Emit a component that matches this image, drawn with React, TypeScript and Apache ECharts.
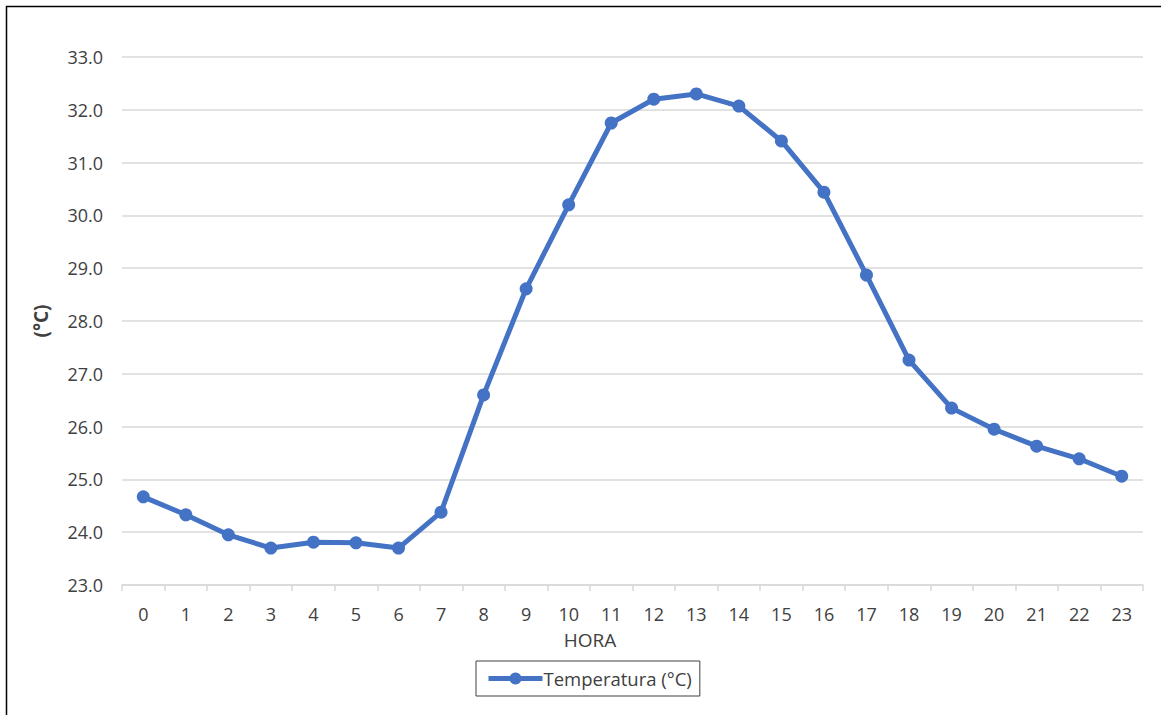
import React, { useEffect, useRef } from "react";
import * as echarts from "echarts";

const hours = ["0","1","2","3","4","5","6","7","8","9","10","11","12","13","14","15","16","17","18","19","20","21","22","23"];
const temperature = [24.67, 24.33, 23.95, 23.70, 23.81, 23.80, 23.70, 24.38, 26.60, 28.61, 30.20, 31.75, 32.20, 32.30, 32.07, 31.41, 30.44, 28.87, 27.26, 26.35, 25.95, 25.63, 25.39, 25.06];
const seriesName = "Temperatura (°C)";
const xTitle = "HORA";
const yTitle = "(°C)";

export default function App() {
  const ref = useRef<HTMLDivElement>(null);
  useEffect(() => {
    document.body.style.margin = "0";
    const chart = echarts.init(ref.current!, null, { renderer: "svg" });
    const font = "Open Sans";
    chart.setOption({
      animation: false,
      backgroundColor: "#ffffff",
      textStyle: { fontFamily: font },
      graphic: [
        {
          type: "rect",
          shape: { x: 6.5, y: 6.5, width: 1160, height: 720 },
          style: { fill: "none", stroke: "#000", lineWidth: 1.5 },
          silent: true,
        },
        {
          type: "text",
          x: 590,
          y: 640,
          style: {
            text: xTitle,
            fontFamily: font,
            fontSize: 19,
            fill: "#404040",
            align: "center",
            verticalAlign: "middle",
          },
          silent: true,
        },
      ],
      grid: { left: 122, right: 18, top: 57, bottom: 130, containLabel: false },
      legend: {
        data: [seriesName],
        left: 476,
        top: 661,
        padding: [8, 8, 8, 10],
        itemWidth: 54,
        itemHeight: 15,
        itemGap: 0,
        borderColor: "#404040",
        borderWidth: 1,
        lineStyle: { width: 5 },
        textStyle: { fontFamily: font, fontSize: 18.5, color: "#404040", padding: [0, 0, 0, -4] },
      },
      xAxis: {
        type: "category",
        data: hours,
        boundaryGap: true,
        axisLine: { lineStyle: { color: "#d9d9d9", width: 1.5 } },
        axisTick: { show: true, length: 6, lineStyle: { color: "#d9d9d9", width: 1.5 } },
        axisLabel: { fontFamily: font, fontSize: 18, color: "#404040", margin: 20 },
      },
      yAxis: {
        type: "value",
        min: 23,
        max: 33,
        interval: 1,
        name: yTitle,
        nameLocation: "middle",
        nameGap: 72,
        nameRotate: 90,
        nameTextStyle: { fontFamily: font, fontSize: 19, fontWeight: "bold", color: "#404040" },
        axisLine: { show: false },
        axisTick: { show: false },
        splitLine: { lineStyle: { color: "#d9d9d9", width: 1.5 } },
        axisLabel: {
          fontFamily: font,
          fontSize: 18,
          color: "#404040",
          margin: 19,
          formatter: (v: number) => v.toFixed(1),
        },
      },
      series: [
        {
          name: seriesName,
          type: "line",
          data: temperature,
          symbol: "circle",
          symbolSize: 13,
          lineStyle: { color: "#4472C4", width: 5 },
          itemStyle: { color: "#4472C4" },
        },
      ],
    });
    return () => chart.dispose();
  }, []);
  return <div ref={ref} style={{ position: "fixed", left: 0, top: 0, width: 1161, height: 715 }} />;
}
